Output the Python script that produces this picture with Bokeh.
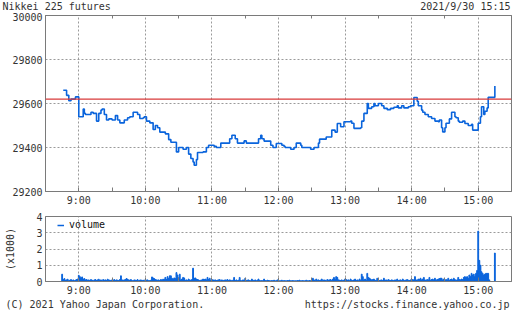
from bokeh.plotting import figure
from bokeh.layouts import column
from bokeh.models import Range1d, FixedTicker, LinearAxis, Span, Legend, LegendItem
from bokeh.core.properties import value
from bokeh.embed import file_html
from bokeh.resources import INLINE

# ---------------- data ----------------
price_times = ["8:46", "8:49", "8:51", "8:53", "8:57", "9:00", "9:04", "9:05", "9:06", "9:11",
               "9:13", "9:16", "9:18", "9:20", "9:21", "9:23", "9:25", "9:27", "9:30", "9:33",
               "9:35", "9:37", "9:41", "9:44", "9:46", "9:49", "9:53", "9:55", "9:58", "9:59",
               "10:01", "10:04", "10:07", "10:09", "10:11", "10:13", "10:18", "10:21", "10:23", "10:28",
               "10:30", "10:34", "10:37", "10:39", "10:41", "10:43", "10:44", "10:46", "10:47", "10:52",
               "10:55", "10:57", "11:02", "11:04", "11:08", "11:16", "11:18", "11:21", "11:23", "11:29",
               "11:31", "11:42", "11:44", "11:45", "11:47", "11:53", "11:55", "11:58", "12:03", "12:05",
               "12:06", "12:11", "12:14", "12:16", "12:20", "12:21", "12:29", "12:32", "12:36", "12:37",
               "12:43", "12:48", "12:51", "12:53", "12:56", "12:59", "13:05", "13:06", "13:08", "13:14",
               "13:15", "13:17", "13:20", "13:21", "13:24", "13:26", "13:27", "13:30", "13:33", "13:35",
               "13:38", "13:41", "13:44", "13:47", "13:48", "13:51", "13:53", "13:57", "13:59", "14:02",
               "14:05", "14:06", "14:09", "14:10", "14:12", "14:15", "14:18", "14:21", "14:24", "14:25",
               "14:27", "14:28", "14:30", "14:31", "14:34", "14:36", "14:39", "14:40", "14:42", "14:43",
               "14:46", "14:48", "14:51", "14:54", "14:55", "15:00", "15:02", "15:03", "15:05", "15:06",
               "15:08", "15:09", "15:15"]
price_values = [29660, 29637, 29613, 29620, 29630, 29540, 29575, 29555, 29550, 29560,
                29555, 29520, 29555, 29570, 29575, 29550, 29525, 29530, 29525, 29545,
                29525, 29512, 29525, 29535, 29540, 29560, 29550, 29532, 29535, 29540,
                29520, 29512, 29482, 29500, 29490, 29470, 29462, 29436, 29424, 29380,
                29400, 29392, 29400, 29370, 29350, 29334, 29319, 29345, 29377, 29380,
                29400, 29410, 29405, 29400, 29420, 29440, 29456, 29440, 29420, 29430,
                29420, 29440, 29456, 29440, 29429, 29410, 29400, 29418, 29410, 29405,
                29400, 29392, 29400, 29420, 29410, 29400, 29392, 29400, 29420, 29438,
                29448, 29479, 29470, 29509, 29494, 29517, 29520, 29510, 29487, 29490,
                29520, 29555, 29600, 29578, 29585, 29600, 29590, 29600, 29590, 29578,
                29572, 29578, 29583, 29590, 29580, 29590, 29580, 29585, 29590, 29627,
                29610, 29590, 29570, 29560, 29550, 29540, 29532, 29520, 29517, 29525,
                29490, 29471, 29490, 29510, 29530, 29560, 29540, 29535, 29520, 29515,
                29520, 29509, 29500, 29505, 29479, 29510, 29540, 29585, 29550, 29565,
                29580, 29628, 29680]
prev_close = 29620

volume_start = "8:45"   # one value per minute (thousands)
volume_values = [
    0.45, 0.12, 0.18, 0.08, 0.10, 0.14, 0.05, 0.08, 0.12, 0.06, 0.10, 0.05, 0.08, 0.12, 0.15,
    0.38, 0.30, 0.22, 0.28, 0.15, 0.18, 0.10, 0.12, 0.08, 0.10, 0.06, 0.12, 0.08, 0.05, 0.10,
    0.12, 0.06, 0.10, 0.14, 0.08, 0.10, 0.05, 0.12, 0.08, 0.10, 0.06, 0.14, 0.10, 0.08, 0.06,
    0.10, 0.08, 0.12, 0.06, 0.10, 0.08, 0.06, 0.12, 0.35, 0.10, 0.08, 0.10, 0.12, 0.18, 0.14,
    0.10, 0.08, 0.12, 0.06, 0.05, 0.10, 0.08, 0.06, 0.12, 0.05, 0.08, 0.10, 0.06, 0.08, 0.05,
    0.12, 0.08, 0.10, 0.05, 0.06, 0.08, 0.28, 0.22, 0.18, 0.12, 0.10, 0.08, 0.10, 0.06, 0.12,
    0.10, 0.14, 0.12, 0.25, 0.12, 0.30, 0.18, 0.35, 0.35, 0.20, 0.15, 0.22, 0.18, 0.55, 0.40,
    0.22, 0.45, 0.10, 0.15, 0.25, 0.22, 0.08, 0.10, 0.06, 0.15, 0.10, 0.08, 0.12, 0.82, 0.20,
    0.22, 0.15, 0.12, 0.10, 0.06, 0.08, 0.10, 0.15, 0.12, 0.15, 0.10, 0.25, 0.12, 0.20, 0.08,
    0.12, 0.10, 0.08, 0.10, 0.06, 0.08, 0.10, 0.12, 0.05, 0.10, 0.06, 0.08, 0.10, 0.08, 0.12,
    0.06, 0.10, 0.08, 0.05, 0.08, 0.25, 0.06, 0.10, 0.05, 0.08, 0.25, 0.06, 0.05, 0.10, 0.08,
    0.20, 0.06, 0.08, 0.10, 0.06, 0.05, 0.15, 0.08, 0.06, 0.10, 0.05, 0.08, 0.15, 0.06, 0.05,
    0.06, 0.05, 0.15, 0.06, 0.05, 0.08, 0.06, 0.05, 0.04, 0.06, 0.05, 0.08, 0.04, 0.05, 0.10,
    0.06, 0.04, 0.05, 0.08, 0.04, 0.06, 0.05, 0.04, 0.06, 0.05, 0.08, 0.04, 0.05, 0.06, 0.04,
    0.05, 0.04, 0.06, 0.05, 0.08, 0.04, 0.05, 0.06, 0.04, 0.05, 0.08, 0.05, 0.04, 0.06, 0.05,
    0.08, 0.20, 0.10, 0.06, 0.15, 0.08, 0.10, 0.06, 0.08, 0.15, 0.06, 0.10, 0.08, 0.05, 0.12,
    0.08, 0.10, 0.12, 0.06, 0.15, 0.25, 0.12, 0.30, 0.25, 0.10, 0.08, 0.06, 0.10, 0.05, 0.08,
    0.15, 0.12, 0.08, 0.10, 0.05, 0.15, 0.08, 0.06, 0.10, 0.15, 0.06, 0.10, 0.05, 0.15, 0.08,
    0.45, 0.30, 0.10, 0.15, 0.08, 0.50, 0.25, 0.20, 0.15, 0.10, 0.12, 0.15, 0.08, 0.06, 0.20,
    0.10, 0.06, 0.08, 0.10, 0.06, 0.20, 0.08, 0.10, 0.06, 0.12, 0.08, 0.06, 0.10, 0.08, 0.06,
    0.10, 0.08, 0.15, 0.06, 0.08, 0.10, 0.06, 0.15, 0.08, 0.06, 0.10, 0.12, 0.08, 0.06, 0.10,
    0.08, 0.12, 0.10, 0.30, 0.10, 0.08, 0.15, 0.12, 0.20, 0.10, 0.15, 0.25, 0.10, 0.08, 0.12,
    0.10, 0.25, 0.08, 0.12, 0.15, 0.10, 0.20, 0.08, 0.12, 0.15, 0.18, 0.20, 0.20, 0.10, 0.15,
    0.08, 0.12, 0.10, 0.20, 0.08, 0.12, 0.15, 0.10, 0.20, 0.12, 0.08, 0.10, 0.25, 0.12, 0.10,
    0.15, 0.12, 0.25, 0.30, 0.25, 0.30, 0.20, 0.40, 0.30, 0.50, 0.40, 0.45, 0.30, 0.50, 0.68,
    3.10, 1.30, 1.00, 0.60, 0.50, 0.40, 0.45, 0.50, 0.50, 0.50, 0.10, 0.00, 0.00, 0.00, 0.00,
    1.75,
]

hour_ticks = ["9:00", "10:00", "11:00", "12:00", "13:00", "14:00", "15:00"]
price_ticks = [29200, 29400, 29600, 29800, 30000]
volume_ticks = [0, 1, 2, 3, 4]
title_text = "Nikkei 225 futures"
date_text = "2021/9/30 15:15"
credit_text = "(C) 2021 Yahoo Japan Corporation."
url_text = "https://stocks.finance.yahoo.co.jp"

# ---------------- helpers ----------------
def to_min(s):
    h, m = s.split(":")
    return int(h) * 60 + int(m)

FONT = "DejaVu Sans Mono"
TXT = "#333333"
BLUE = "#0a64dc"
FRAME = "#7a7a7a"
GRID = "#9a9a9a"
FS = "10px"
W = 512

x_lo, x_hi = to_min("8:30"), to_min("15:30")
hour_pos = [to_min(h) for h in hour_ticks]
half_pos = [x for x in range(x_lo, x_hi + 1, 30) if x not in hour_pos]
hour_labels = {to_min(h): h for h in hour_ticks}

price_x = [to_min(t) for t in price_times]
v0 = to_min(volume_start)
vol_x = [v0 + i for i in range(len(volume_values))]


def text_strip(height, items):
    """A plain full-width strip for header/footer texts (canvas pixel coords)."""
    s = figure(width=W, height=height, output_backend="svg", toolbar_location=None,
               x_range=Range1d(0, W), y_range=Range1d(0, height),
               x_axis_type=None, y_axis_type=None, min_border=0)
    s.outline_line_color = None
    s.grid.visible = False
    for (x, y, txt, align) in items:
        s.text(x=[x], y=[y], text=[txt], text_font=value(FONT), text_font_size=value(FS),
               text_color=TXT, text_baseline="middle", text_align=align)
    return s


def style_common(p):
    p.outline_line_color = FRAME
    p.outline_line_width = 1
    p.xgrid.ticker = FixedTicker(ticks=hour_pos)
    for g in (p.xgrid, p.ygrid):
        g.grid_line_color = GRID
        g.grid_line_dash = "2 2"
        g.grid_line_width = 1
    xa = p.xaxis[0]
    xa.ticker = FixedTicker(ticks=hour_pos, minor_ticks=half_pos)
    xa.major_label_overrides = hour_labels
    xa.major_tick_in = 4
    xa.major_tick_out = 0
    xa.minor_tick_in = 4
    xa.minor_tick_out = 0
    xa.minor_tick_line_color = FRAME
    xa.axis_line_color = FRAME
    xa.major_tick_line_color = FRAME
    xa.major_label_standoff = 3
    ya = p.yaxis[0]
    ya.major_tick_in = 0
    ya.major_tick_out = 0
    ya.minor_tick_line_color = None
    ya.axis_line_color = FRAME
    ya.major_label_standoff = 3
    for a in (xa, ya):
        a.major_label_text_font = FONT
        a.major_label_text_font_size = FS
        a.major_label_text_color = TXT


# ---------------- header ----------------
header = text_strip(12, [(2, 6, title_text, "left"), (510, 6, date_text, "right")])

# ---------------- price panel ----------------
p1 = figure(frame_width=466, frame_height=176, output_backend="svg", toolbar_location=None,
            x_range=Range1d(x_lo, x_hi), y_range=Range1d(price_ticks[0], price_ticks[-1]),
            min_border_left=45, min_border_right=1, min_border_top=3, min_border_bottom=16)
style_common(p1)
p1.yaxis[0].ticker = FixedTicker(ticks=price_ticks)
p1.ygrid.ticker = FixedTicker(ticks=price_ticks)

top_axis = LinearAxis(ticker=FixedTicker(ticks=[], minor_ticks=half_pos), major_tick_in=0,
                      major_tick_out=0, minor_tick_in=3, minor_tick_out=0,
                      minor_tick_line_color=FRAME, axis_line_color=FRAME,
                      major_label_standoff=0)
p1.add_layout(top_axis, "above")

p1.add_layout(Span(location=prev_close, dimension="width", line_color="#d83a3a", line_width=1.2))
p1.step(price_x, price_values, mode="after", line_color=BLUE, line_width=1.6)

# ---------------- volume panel ----------------
p2 = figure(frame_width=466, frame_height=65, output_backend="svg", toolbar_location=None,
            x_range=p1.x_range, y_range=Range1d(volume_ticks[0], volume_ticks[-1]),
            min_border_left=45, min_border_right=1, min_border_top=8, min_border_bottom=15)
style_common(p2)
p2.yaxis[0].ticker = FixedTicker(ticks=volume_ticks)
p2.ygrid.ticker = FixedTicker(ticks=volume_ticks)
p2.yaxis[0].axis_label = "(x1000)"
p2.yaxis[0].axis_label_text_font = FONT
p2.yaxis[0].axis_label_text_font_size = FS
p2.yaxis[0].axis_label_text_font_style = "normal"
p2.yaxis[0].axis_label_text_color = TXT
p2.yaxis[0].axis_label_standoff = 17

p2.vbar(x=vol_x, top=volume_values, width=0.75, color=BLUE)
leg_r = p2.line(x=[float("nan")], y=[float("nan")], line_color=BLUE, line_width=1.5)
legend = Legend(items=[LegendItem(label="volume", renderers=[leg_r])], location=(12, 51),
                border_line_color=None, background_fill_alpha=0, label_text_font=FONT,
                label_text_font_size=FS, label_text_color="#111111", glyph_width=7,
                glyph_height=10, label_standoff=5, padding=0, margin=0, label_height=10,
                spacing=0)
p2.add_layout(legend)

# ---------------- footer ----------------
footer = text_strip(15, [(5, 9, credit_text, "left"), (509, 9, url_text, "right")])

layout = column(header, column(p1, p2, spacing=0), footer, spacing=0)
open("out.html", "w").write(file_html(layout, INLINE))
